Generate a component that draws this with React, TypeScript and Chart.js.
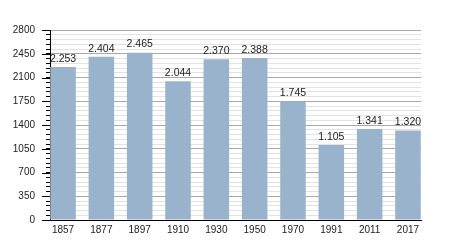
import React, { useEffect, useRef } from "react";
import { Chart, registerables } from "chart.js";

Chart.register(...registerables);

const years = ["1857", "1877", "1897", "1910", "1930", "1950", "1970", "1991", "2011", "2017"];
const population = [2253, 2404, 2465, 2044, 2370, 2388, 1745, 1105, 1341, 1320];
const yMax = 2800;
const yMajorStep = 350;
const yMinorStep = 70;

const fmt = (v: number) => {
  const s = String(Math.round(v));
  return s.replace(/\B(?=(\d{3})+(?!\d))/g, ".");
};

const FONT = "'Liberation Sans', Arial, sans-serif";

const valueLabels = {
  id: "valueLabels",
  afterDatasetsDraw(chart: any) {
    const ctx = chart.ctx;
    const meta = chart.getDatasetMeta(0);
    ctx.save();
    ctx.font = `10.5px ${FONT}`;
    ctx.fillStyle = "#222";
    ctx.textAlign = "center";
    ctx.textBaseline = "bottom";
    meta.data.forEach((bar: any, i: number) => {
      ctx.fillText(fmt(population[i]), bar.x, bar.y - 3);
    });
    ctx.restore();
  },
};

const majorTicks = {
  id: "majorTicks",
  afterDraw(chart: any) {
    const ctx = chart.ctx;
    const y = chart.scales.y;
    const left = chart.chartArea.left;
    ctx.save();
    ctx.strokeStyle = "#000";
    ctx.lineWidth = 1;
    for (let v = 0; v <= yMax; v += yMajorStep) {
      const py = Math.round(y.getPixelForValue(v)) + 0.5;
      ctx.beginPath();
      ctx.moveTo(left - 8, py);
      ctx.lineTo(left, py);
      ctx.stroke();
    }
    ctx.restore();
  },
};

export default function App() {
  const ref = useRef<HTMLCanvasElement | null>(null);
  useEffect(() => {
    if (!ref.current) return;
    const chart = new Chart(ref.current, {
      type: "bar",
      data: {
        datasets: [
          {
            data: population.map((v, i) => ({ x: i, y: v })),
            backgroundColor: "#9ab3cd",
            borderWidth: 0,
            barPercentage: 0.667,
            categoryPercentage: 1,
          },
        ],
      },
      options: {
        responsive: false,
        animation: false,
        layout: { padding: { left: 0, right: 29, top: 30, bottom: 0 } },
        plugins: { legend: { display: false }, tooltip: { enabled: false } },
        scales: {
          x: {
            type: "linear",
            offset: false,
            min: -0.34,
            max: 9.34,
            afterBuildTicks: (scale: any) => {
              scale.ticks = years.map((_, i) => ({ value: i }));
            },
            afterFit: (scale: any) => {
              scale.height = 30;
            },
            grid: { display: false, drawTicks: false, offset: false },
            border: { display: true, color: "#000", width: 1 },
            ticks: {
              autoSkip: false,
              maxRotation: 0,
              padding: 4,
              color: "#222",
              font: { family: FONT, size: 10 },
              callback: (v: any) => years[Math.round(Number(v))] ?? "",
            },
          },
          y: {
            min: 0,
            max: yMax,
            afterFit: (scale: any) => {
              scale.width = 50;
            },
            border: { display: true, color: "#000", width: 1 },
            grid: {
              color: (c: any) =>
                c.tick && c.tick.value % yMajorStep === 0 ? "#a9a9a9" : "#e3e3e3",
              tickColor: "#000",
              tickLength: 4,
            },
            ticks: {
              stepSize: yMinorStep,
              autoSkip: false,
              maxTicksLimit: 100,
              padding: 11,
              color: "#222",
              font: { family: FONT, size: 10 },
              callback: (v: any) => (Number(v) % yMajorStep === 0 ? String(v) : ""),
            },
          },
        },
      },
      plugins: [valueLabels, majorTicks],
    });
    return () => chart.destroy();
  }, []);
  return (
    <div style={{ position: "fixed", left: 0, top: 0, width: 450, height: 250, background: "#fff" }}>
      <canvas ref={ref} width={450} height={250} />
    </div>
  );
}
